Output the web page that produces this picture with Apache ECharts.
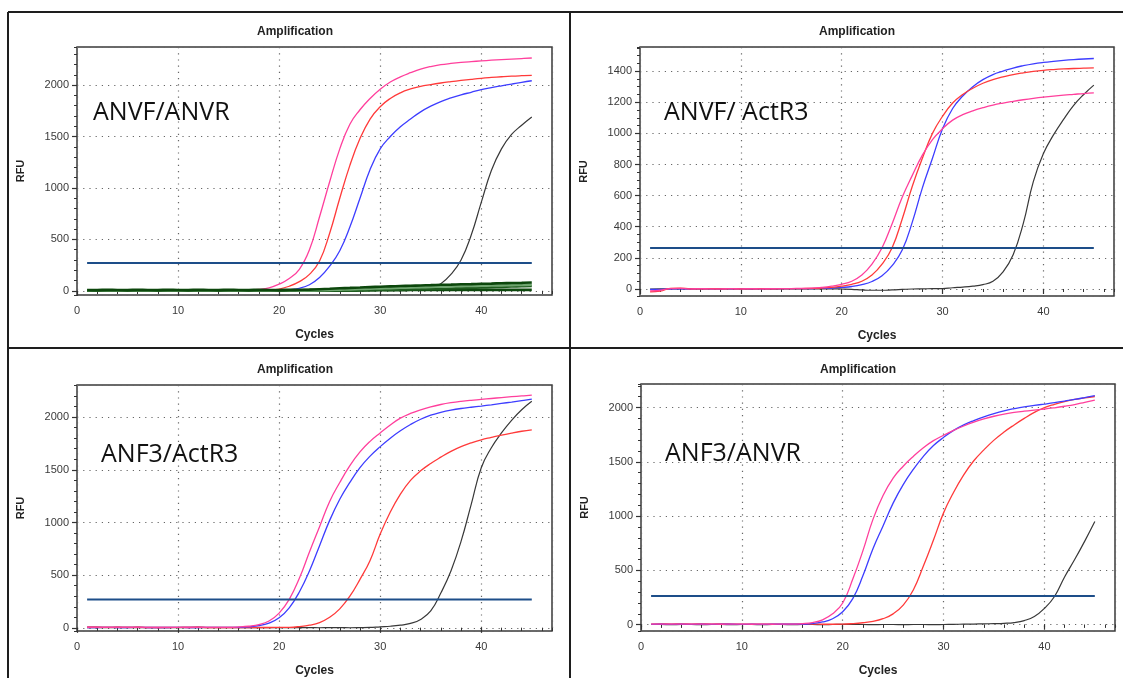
<!DOCTYPE html>
<html>
<head>
<meta charset="utf-8">
<script src="https://cdn.jsdelivr.net/npm/echarts@6/dist/echarts.min.js"></script>
<style>
  html, body { margin: 0; padding: 0; background: #ffffff; }
  #chart { width: 1123px; height: 678px; }
</style>
</head>
<body>
<div id="chart"></div>
<script>
// Cycle numbers shared by every amplification run
const cycles = [1,2,3,4,5,6,7,8,9,10,11,12,13,14,15,16,17,18,19,20,21,22,23,24,25,26,27,28,29,30,
                31,32,33,34,35,36,37,38,39,40,41,42,43,44,45];

// Panel labels (primer pairs)
const panelNames = ['ANVF/ANVR', 'ANVF/ ActR3', 'ANF3/ActR3', 'ANF3/ANVR'];

// Threshold RFU for each panel
const thresholds = [270, 263, 268, 265];

// ANVF/ANVR
const p1Pink  = [2,3,2,3,2,3,3,2,3,3,2,3,3,4,4,5,8,15,30,65,120,210,400,720,1060,1380,1620,1760,1870,1960,2030,2080,2120,2155,2180,2198,2210,2220,2228,2235,2242,2248,2253,2258,2263];
const p1Red   = [2,2,3,2,3,2,3,3,2,3,3,2,3,3,3,4,4,5,8,18,45,90,160,290,560,900,1220,1480,1670,1790,1870,1925,1962,1988,2005,2020,2033,2045,2056,2066,2074,2081,2087,2091,2094];
const p1Blue  = [2,3,2,2,3,3,2,3,2,3,3,2,3,2,3,3,4,4,5,6,10,25,60,130,240,390,620,900,1180,1380,1500,1595,1670,1740,1795,1840,1875,1905,1930,1955,1975,1993,2010,2027,2042];
const p1Black = [2,2,3,2,2,3,2,3,2,2,3,2,3,2,3,2,2,3,2,3,2,3,2,3,3,2,3,3,4,4,5,6,8,15,30,70,160,300,540,860,1170,1380,1520,1610,1690];
const p1GreenA = [6,5,6,6,5,6,6,5,6,6,5,6,6,5,6,6,5,6,6,5,6,9,12,16,20,25,29,33,37,40,44,47,50,53,56,59,61,64,66,69,71,74,76,78,81];
const p1GreenB = [3,4,3,3,4,3,3,4,3,3,4,3,3,4,3,3,4,3,3,4,3,3,4,6,9,12,15,18,21,24,27,30,33,36,38,41,43,46,48,50,52,54,56,58,60];
const p1GreenC = [1,1,1,1,1,1,1,1,1,1,1,1,1,1,1,1,1,1,1,1,1,1,1,1,1,1,1,3,5,7,9,11,14,16,19,21,24,27,29,32,35,38,41,44,47];
const p1GreenD = [8,8,9,8,8,9,8,8,9,8,8,9,8,8,9,8,8,9,8,8,9,8,8,9,8,8,9,8,8,9,8,8,9,9,9,9,9,10,10,10,10,10,10,10,10];

// ANVF/ ActR3
const p2Pink  = [-12,-8,3,4,1,2,1,1,2,1,2,1,2,2,3,4,5,10,18,30,50,90,160,265,420,590,730,860,960,1030,1085,1120,1145,1165,1182,1195,1206,1216,1225,1233,1240,1246,1251,1256,1260];
const p2Red   = [-18,-14,4,6,1,1,2,1,2,1,1,2,1,2,2,3,4,6,10,18,30,50,90,160,265,450,660,840,1000,1110,1195,1250,1290,1322,1346,1363,1378,1389,1398,1405,1410,1414,1417,1419,1421];
const p2Blue  = [-3,-2,0,1,0,1,1,0,1,1,0,1,1,2,2,3,3,4,6,10,16,28,48,85,150,250,430,650,840,1030,1160,1240,1300,1345,1378,1400,1420,1435,1447,1456,1463,1469,1474,1478,1481];
const p2Black = [0,1,0,1,1,0,1,0,1,1,0,1,0,1,1,0,1,0,1,0,-2,-6,-8,-8,-6,-3,0,1,2,3,8,12,18,28,50,110,220,420,690,870,990,1090,1180,1250,1310];

// ANF3/ActR3
const p3Pink  = [5,4,5,4,5,4,5,3,4,4,3,4,4,5,5,8,15,30,65,140,270,470,720,960,1200,1380,1540,1670,1770,1850,1925,1990,2035,2070,2098,2120,2137,2150,2160,2168,2177,2186,2194,2201,2208];
const p3Blue  = [3,3,4,3,3,4,3,3,3,4,3,3,4,4,4,5,10,20,45,95,190,340,540,780,1020,1220,1380,1520,1630,1720,1800,1870,1930,1980,2018,2045,2066,2082,2094,2105,2117,2130,2143,2157,2170];
const p3Red   = [8,8,7,8,7,8,3,3,3,5,7,8,3,3,3,3,3,3,3,4,5,12,25,50,100,180,300,460,640,890,1100,1270,1400,1490,1560,1620,1675,1720,1755,1785,1808,1830,1849,1866,1880];
const p3Black = [2,2,1,2,2,1,2,2,1,2,2,1,2,2,1,2,2,1,2,2,1,2,2,1,2,2,1,2,4,10,15,25,42,80,160,330,540,820,1170,1520,1710,1850,1970,2070,2150];

// ANF3/ANVR
const p4Pink  = [5,5,6,5,5,6,5,4,5,5,4,5,4,5,5,10,20,45,100,200,420,680,970,1190,1350,1460,1550,1630,1695,1745,1790,1830,1865,1895,1920,1940,1955,1967,1977,1986,1998,2012,2028,2048,2068];
const p4Blue  = [3,4,3,4,3,4,3,4,4,3,4,3,4,4,4,5,12,25,55,120,240,450,700,910,1120,1290,1430,1550,1650,1725,1790,1840,1880,1915,1945,1970,1990,2007,2020,2032,2045,2060,2075,2092,2110];
const p4Red   = [6,7,6,7,6,7,6,7,6,5,6,5,6,5,4,4,5,4,4,5,10,18,30,55,100,180,320,540,780,1030,1220,1380,1510,1610,1700,1775,1840,1900,1955,2000,2030,2055,2075,2090,2102];
const p4Black = [2,2,1,2,2,1,2,2,1,2,2,1,2,2,1,2,2,1,2,3,2,2,1,2,2,1,2,2,1,2,3,5,6,8,10,13,20,38,75,150,260,440,600,770,950];

// Y axis extents and tick steps per panel
const yMin   = [-40, -45, -30, -58];
const yMax   = [2370, 1555, 2305, 2217];
const yMajor = [500, 200, 500, 500];
const yMinor = [100, 50, 100, 100];

const COLORS = { pink: '#ff3f9c', red: '#ff3a3a', blue: '#3d3dff', black: '#383838', thr: '#1d4e89',
                 gDark: '#0c470c', gMid: '#1e5c1e', gLight: '#6fa56f' };
const FONT = '"Liberation Sans", Arial, sans-serif';

const layout = [
  { left: 77,  top: 47,  width: 475, height: 248, title: 290, titleTop: 21,  text: [93, 100] },
  { left: 640, top: 47,  width: 474, height: 249, title: 852, titleTop: 21,  text: [664, 100] },
  { left: 77,  top: 385, width: 475, height: 247, title: 290, titleTop: 359, text: [101, 442] },
  { left: 641, top: 384, width: 474, height: 251, title: 853, titleTop: 359, text: [665, 441] }
];

const panelCurves = [
  [[p1Black, COLORS.black, 1.2], [p1Blue, COLORS.blue, 1.3], [p1Red, COLORS.red, 1.3], [p1Pink, COLORS.pink, 1.3],
   [p1GreenD, COLORS.gDark, 2.8], [p1GreenC, COLORS.gMid, 2.4], [p1GreenB, COLORS.gLight, 2.6], [p1GreenA, COLORS.gDark, 2.6]],
  [[p2Black, COLORS.black, 1.2], [p2Blue, COLORS.blue, 1.3], [p2Red, COLORS.red, 1.3], [p2Pink, COLORS.pink, 1.3]],
  [[p3Black, COLORS.black, 1.2], [p3Red, COLORS.red, 1.3], [p3Blue, COLORS.blue, 1.3], [p3Pink, COLORS.pink, 1.3]],
  [[p4Black, COLORS.black, 1.2], [p4Red, COLORS.red, 1.3], [p4Blue, COLORS.blue, 1.3], [p4Pink, COLORS.pink, 1.3]]
];

const plain = v => String(v);
const grid = [], xAxis = [], yAxis = [], series = [], title = [], graphic = [];

layout.forEach((L, i) => {
  grid.push({ left: L.left, top: L.top, width: L.width, height: L.height, show: true,
              borderColor: '#3a3a3a', borderWidth: 1.5, backgroundColor: '#ffffff' });

  title.push({ text: 'Amplification', left: L.title, top: L.titleTop, textAlign: 'center',
               textStyle: { fontFamily: FONT, fontSize: 12, fontWeight: 'bold', color: '#222' } });

  // x axes: labelled major ticks, minor ticks below, minor ticks inside the top edge
  xAxis.push({
    gridIndex: i, type: 'value', min: 0, max: 47, interval: 10,
    axisLine: { show: false },
    axisTick: { length: 5, lineStyle: { color: '#333', width: 1.2 } },
    axisLabel: { showMaxLabel: false, formatter: plain, fontFamily: FONT, fontSize: 11, color: '#3a3a3a', margin: 10 },
    splitLine: { show: true, lineStyle: { color: '#666', width: 1.2, type: [1.2, 5] } },
    name: 'Cycles', nameLocation: 'middle', nameGap: 34,
    nameTextStyle: { fontFamily: FONT, fontSize: 12, fontWeight: 'bold', color: '#222' }
  });
  xAxis.push({
    gridIndex: i, type: 'value', min: 0, max: 47, interval: 2, position: 'bottom',
    axisLine: { show: false }, axisTick: { length: 3, lineStyle: { color: '#333' } },
    axisLabel: { show: false }, splitLine: { show: false }
  });
  xAxis.push({
    gridIndex: i, type: 'value', min: 0, max: 47, interval: 2, position: 'top',
    axisLine: { show: false }, axisTick: { inside: true, length: 3, lineStyle: { color: '#333' } },
    axisLabel: { show: false }, splitLine: { show: false }
  });

  // y axes: labelled major ticks, minor ticks on the left, minor ticks inside the right edge
  yAxis.push({
    gridIndex: i, type: 'value', min: yMin[i], max: yMax[i],
    minInterval: yMajor[i], maxInterval: yMajor[i],
    axisLine: { show: false },
    axisTick: { length: 5, lineStyle: { color: '#333', width: 1.2 } },
    axisLabel: { showMinLabel: false, showMaxLabel: false, formatter: plain, fontFamily: FONT, fontSize: 11, color: '#3a3a3a', margin: 8 },
    splitLine: { show: true, lineStyle: { color: '#666', width: 1.2, type: [1.2, 5] } },
    name: 'RFU', nameLocation: 'middle', nameRotate: 90, nameGap: 51,
    nameTextStyle: { fontFamily: FONT, fontSize: 11, fontWeight: 'bold', color: '#222' }
  });
  yAxis.push({
    gridIndex: i, type: 'value', min: yMin[i], max: yMax[i], position: 'left',
    minInterval: yMinor[i], maxInterval: yMinor[i],
    axisLine: { show: false }, axisTick: { length: 3, lineStyle: { color: '#333' } },
    axisLabel: { show: false }, splitLine: { show: false }
  });
  yAxis.push({
    gridIndex: i, type: 'value', min: yMin[i], max: yMax[i], position: 'right',
    minInterval: yMinor[i], maxInterval: yMinor[i],
    axisLine: { show: false }, axisTick: { inside: true, length: 3, lineStyle: { color: '#333' } },
    axisLabel: { show: false }, splitLine: { show: false }
  });

  panelCurves[i].forEach(([vals, color, w]) => {
    series.push({
      type: 'line', xAxisIndex: 3 * i, yAxisIndex: 3 * i,
      data: vals.map((v, k) => [cycles[k], v]),
      showSymbol: false, smooth: 0.45, silent: true,
      lineStyle: { color, width: w }
    });
  });

  // threshold line across the run
  series.push({
    type: 'line', xAxisIndex: 3 * i, yAxisIndex: 3 * i,
    data: [[cycles[0], thresholds[i]], [cycles[cycles.length - 1], thresholds[i]]],
    showSymbol: false, silent: true, lineStyle: { color: COLORS.thr, width: 2 }
  });

  graphic.push({
    type: 'text', left: L.text[0], top: L.text[1], z: 100,
    style: { text: panelNames[i], font: '25px "Open Sans", "Noto Sans", sans-serif', fill: '#111' }
  });
});

// panel frames and dividers
const frame = { stroke: '#1e1e1e', lineWidth: 2 };
graphic.push(
  { type: 'line', shape: { x1: 8, y1: 12, x2: 1123, y2: 12 }, style: frame },
  { type: 'line', shape: { x1: 8, y1: 12, x2: 8, y2: 678 }, style: frame },
  { type: 'line', shape: { x1: 570, y1: 12, x2: 570, y2: 678 }, style: frame },
  { type: 'line', shape: { x1: 8, y1: 348, x2: 1123, y2: 348 }, style: frame }
);

const chart = echarts.init(document.getElementById('chart'), null, { renderer: 'canvas', width: 1123, height: 678 });
chart.setOption({
  backgroundColor: '#ffffff',
  animation: false,
  title, grid, xAxis, yAxis, series, graphic
});
</script>
</body>
</html>
